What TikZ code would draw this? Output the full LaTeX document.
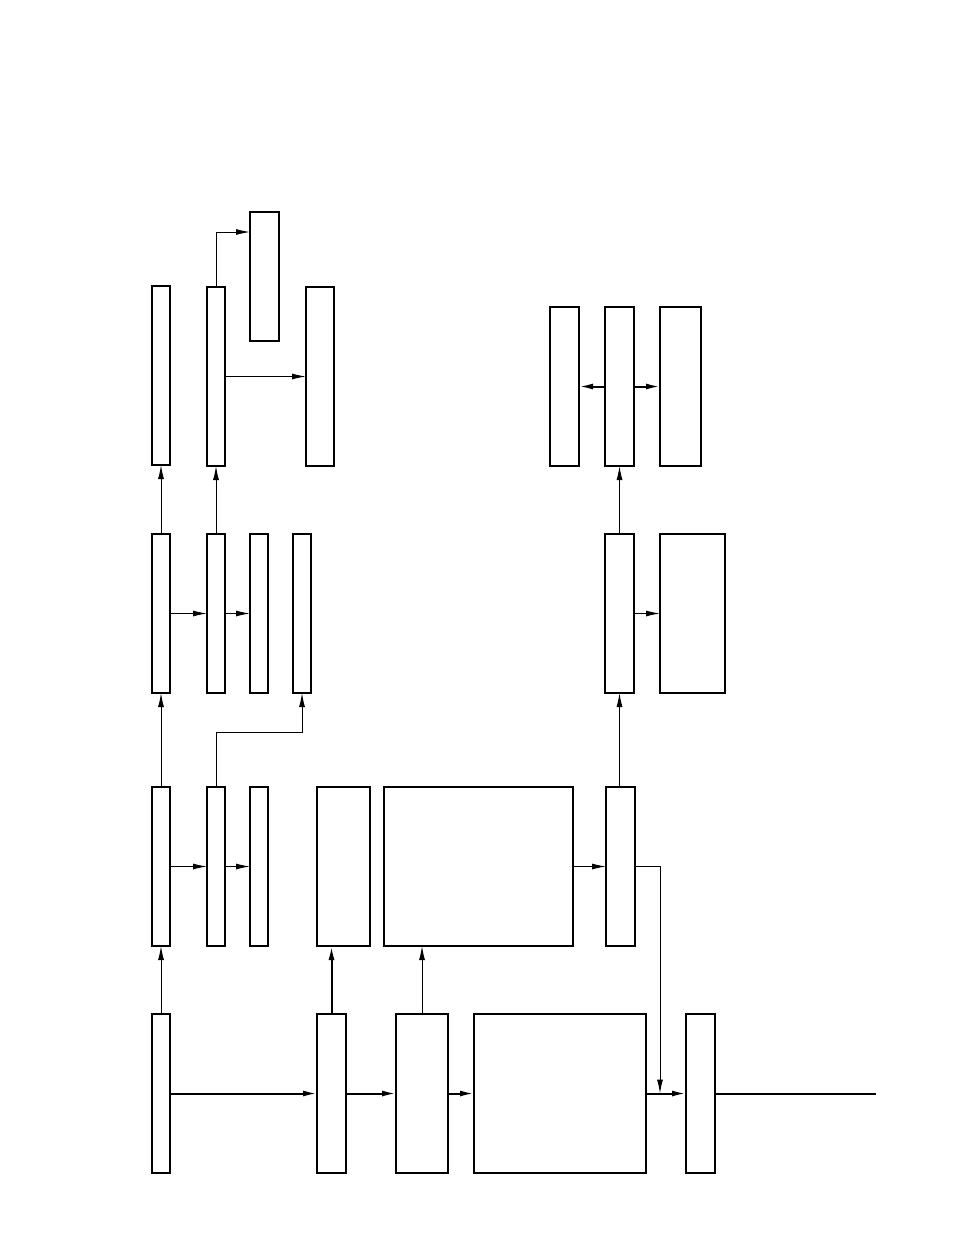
\documentclass[tikz,border=0pt]{standalone}
\usetikzlibrary{arrows.meta}
\tikzset{
  box/.style={draw,line width=1.7pt,fill=white,inner sep=0pt,outer sep=0pt},
  arr/.style={line width=1pt,-{Latex[length=14pt,width=6pt]}},
  tarr/.style={line width=2pt,-{Latex[length=14pt,width=6pt]}},
  tline/.style={line width=2pt}
}
\newcommand\bx[5]{\node[box,minimum width={(#4-#2)*1pt},minimum height={(#5-#3)*1pt}] (#1) at ({(#2+#4)/2},{(#3+#5)/2}) {};}
\begin{document}
\begin{tikzpicture}[x=1pt,y=-1pt]
\useasboundingbox (0,0) rectangle (954,1235);
% top row
\bx{A1}{152}{286}{170}{465}
\bx{A2}{207}{287}{225}{466}
\bx{A3}{250}{212}{279}{341}
\bx{A4}{306}{287}{334}{466}
\bx{R1}{550}{307}{579}{466}
\bx{R2}{605}{307}{634}{466}
\bx{R3}{660}{307}{701}{466}
% second row
\bx{B1}{152}{534}{170}{693}
\bx{B2}{207}{534}{225}{693}
\bx{B3}{250}{534}{268}{693}
\bx{B4}{293}{534}{311}{693}
\bx{RB1}{605}{534}{634}{693}
\bx{RB2}{660}{534}{725}{693}
% third row
\bx{C1}{152}{787}{170}{946}
\bx{C2}{207}{787}{225}{946}
\bx{C3}{250}{787}{268}{946}
\bx{C4}{317}{787}{370}{946}
\bx{C5}{384}{787}{573}{946}
\bx{C6}{606}{787}{635}{946}
% bottom row
\bx{D1}{152}{1014}{170}{1173}
\bx{D2}{317}{1014}{346}{1173}
\bx{D3}{396}{1014}{448}{1173}
\bx{D4}{474}{1014}{646}{1173}
\bx{D5}{686}{1014}{715}{1173}
\coordinate (out) at (876,1093.5);
\coordinate (j) at (660,1093.5);
% bottom chain
\draw[tarr] (D1.east) -- (D2.west);
\draw[tarr] (D2.east) -- (D3.west);
\draw[tarr] (D3.east) -- (D4.west);
\draw[tarr] (D4.east) -- (D5.west);
\draw[tline] (D5.east) -- (out);
\draw[arr] (C6.east) -| (j);
% upward connections
\draw[arr] (D1.north) -- (C1.south);
\draw[tarr] (D2.north) -- (D2.north |- C4.south);
\draw[arr] (D3.north) -- (D3.north |- C5.south);
\draw[arr] (C5.east) -- (C6.west);
\draw[arr] (RB1.south |- C6.north) -- (RB1.south);
\draw[arr] (RB1.east) -- (RB2.west);
\draw[arr] (RB1.north) -- (R2.south);
\draw[tarr] (R2.west) -- (R1.east);
\draw[tarr] (R2.east) -- (R3.west);
% left column
\draw[arr] (C1.east) -- (C2.west);
\draw[arr] (C2.east) -- (C3.west);
\draw[arr] (C1.north) -- (B1.south);
\draw[arr] (C2.north) -- ++(0,-55) -| (B4.south);
\draw[arr] (B1.east) -- (B2.west);
\draw[arr] (B2.east) -- (B3.west);
\draw[arr] (B1.north) -- (A1.south);
\draw[arr] (B2.north) -- (A2.south);
\draw[arr] (A2.east) -- (A4.west);
\draw[arr] (A2.north) |- ([yshift=-20pt]A3.north west);
\end{tikzpicture}
\end{document}
